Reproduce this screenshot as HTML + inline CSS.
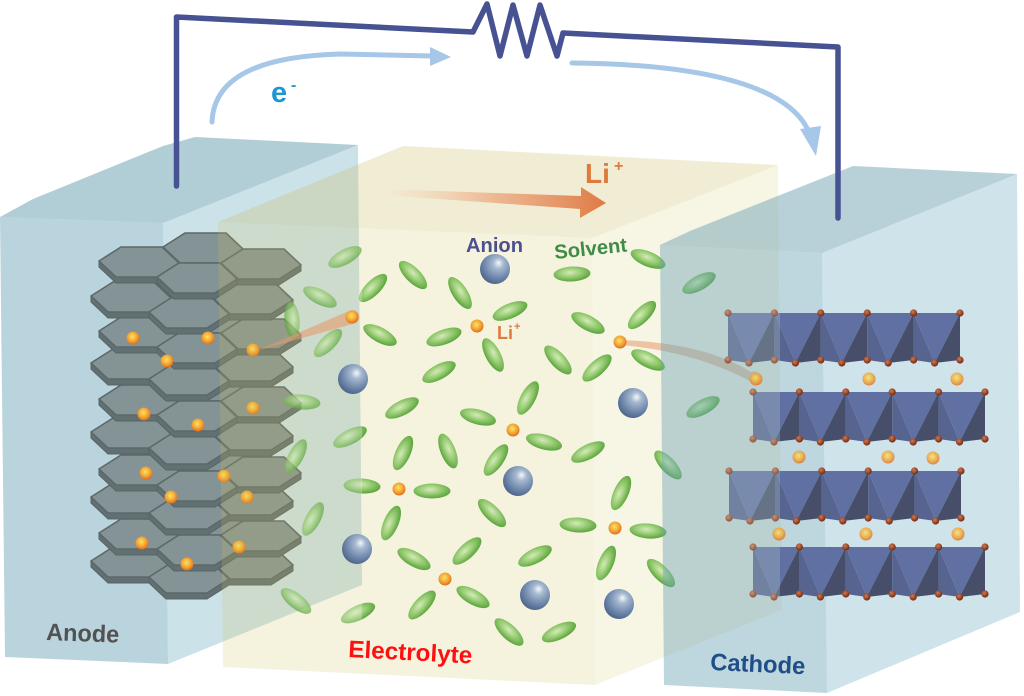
<!DOCTYPE html>
<html><head><meta charset="utf-8"><style>
html,body{margin:0;padding:0;background:#fff;}
svg{display:block;}
text{font-family:"Liberation Sans",Arial,sans-serif;font-weight:bold;}
</style></head><body>
<svg width="1024" height="696" viewBox="0 0 1024 696" xmlns="http://www.w3.org/2000/svg">
<defs>
<radialGradient id="gE" cx="0.45" cy="0.4" r="0.6"><stop offset="0" stop-color="#d4ebb8"/><stop offset="0.5" stop-color="#98cc74"/><stop offset="1" stop-color="#5aa43c"/></radialGradient>
<radialGradient id="gA" cx="0.6" cy="0.35" r="0.7" fx="0.62" fy="0.3"><stop offset="0" stop-color="#f4f7fb"/><stop offset="0.25" stop-color="#a6b9d0"/><stop offset="0.7" stop-color="#6a83a8"/><stop offset="1" stop-color="#4b6186"/></radialGradient>
<radialGradient id="gL" cx="0.45" cy="0.4" r="0.62"><stop offset="0" stop-color="#fbe466"/><stop offset="0.6" stop-color="#f2a232"/><stop offset="1" stop-color="#de681c"/></radialGradient>
<radialGradient id="gB" cx="0.4" cy="0.35" r="0.65"><stop offset="0" stop-color="#cf7a52"/><stop offset="1" stop-color="#74280f"/></radialGradient>
<linearGradient id="gLi" x1="382" y1="0" x2="607" y2="0" gradientUnits="userSpaceOnUse"><stop offset="0" stop-color="#f3c9a6" stop-opacity="0"/><stop offset="0.5" stop-color="#ecae86" stop-opacity="0.85"/><stop offset="1" stop-color="#df7a44"/></linearGradient>
<clipPath id="cA"><rect x="0" y="0" width="362" height="696"/></clipPath>
<clipPath id="cNA"><rect x="362" y="0" width="700" height="696"/></clipPath>
<clipPath id="cE"><rect x="0" y="0" width="780" height="696"/></clipPath>
<clipPath id="cNE"><rect x="780" y="0" width="300" height="696"/></clipPath>
<ellipse id="e" cx="0" cy="0" rx="18.5" ry="7.5" fill="url(#gE)"/>
<circle id="li" cx="0" cy="0" r="6.5" fill="url(#gL)"/>
<circle id="an" cx="0" cy="0" r="15" fill="url(#gA)"/>
<circle id="bd" cx="0" cy="0" r="3.6" fill="url(#gB)"/>
<g id="hx">
<polygon points="-18,-15 23,-15 40,1 40,7 18,21 -23,21 -40,5 -40,-1" fill="#617072" stroke="#586466" stroke-width="1"/>
<polygon points="40,1 18,15 -23,15 -40,-1 -18,-15 23,-15" fill="#849395" stroke="#5c686a" stroke-width="1.6" stroke-linejoin="round"/>
</g>
<g id="hl">
<use href="#hx" transform="translate(0,0)"/>
<use href="#hx" transform="translate(-64,14)"/>
<use href="#hx" transform="translate(58,16)"/>
<use href="#hx" transform="translate(-6,30)"/>
</g>
<g id="cl">
<polygon points="0,0 0,47 21,50" fill="#56648f"/><polygon points="0,0 46.4,0 21,50" fill="#6070a2"/><polygon points="46.4,0 21,50 46.4,47" fill="#464e6a"/>
<polygon points="46.4,0 46.4,47 67.4,50" fill="#56648f"/><polygon points="46.4,0 92.8,0 67.4,50" fill="#6070a2"/><polygon points="92.8,0 67.4,50 92.8,47" fill="#464e6a"/>
<polygon points="92.8,0 92.8,47 113.8,50" fill="#56648f"/><polygon points="92.8,0 139.2,0 113.8,50" fill="#6070a2"/><polygon points="139.2,0 113.8,50 139.2,47" fill="#464e6a"/>
<polygon points="139.2,0 139.2,47 160.2,50" fill="#56648f"/><polygon points="139.2,0 185.6,0 160.2,50" fill="#6070a2"/><polygon points="185.6,0 160.2,50 185.6,47" fill="#464e6a"/>
<polygon points="185.6,0 185.6,47 206.6,50" fill="#56648f"/><polygon points="185.6,0 232,0 206.6,50" fill="#6070a2"/><polygon points="232,0 206.6,50 232,47" fill="#464e6a"/>
<use href="#bd" x="0" y="0"/><use href="#bd" x="46.4" y="0"/><use href="#bd" x="92.8" y="0"/><use href="#bd" x="139.2" y="0"/><use href="#bd" x="185.6" y="0"/><use href="#bd" x="232" y="0"/>
<use href="#bd" x="0" y="47"/><use href="#bd" x="46.4" y="47"/><use href="#bd" x="92.8" y="47"/><use href="#bd" x="139.2" y="47"/><use href="#bd" x="185.6" y="47"/><use href="#bd" x="232" y="47"/>
<use href="#bd" x="21" y="50"/><use href="#bd" x="67.4" y="50"/><use href="#bd" x="113.8" y="50"/><use href="#bd" x="160.2" y="50"/><use href="#bd" x="206.6" y="50"/>
</g>
<g id="cry">
<use href="#cl" transform="translate(728,313)"/>
<use href="#cl" transform="translate(753,392)"/>
<use href="#cl" transform="translate(729,471)"/>
<use href="#cl" transform="translate(753,547)"/>
</g>
<g id="mol">
<use href="#e" transform="translate(345,257) rotate(-28)"/>
<use href="#e" transform="translate(413,275) rotate(45)"/>
<use href="#e" transform="translate(460,293) rotate(57)"/>
<use href="#e" transform="translate(572,274) rotate(-3)"/>
<use href="#e" transform="translate(648,259) rotate(22)"/>
<use href="#e" transform="translate(373,288) rotate(-45)"/>
<use href="#e" transform="translate(320,297) rotate(27)"/>
<use href="#e" transform="translate(292,320) rotate(85)"/>
<use href="#e" transform="translate(510,311) rotate(-22)"/>
<use href="#e" transform="translate(380,335) rotate(28)"/>
<use href="#e" transform="translate(444,337) rotate(-20)"/>
<use href="#e" transform="translate(493,355) rotate(62)"/>
<use href="#e" transform="translate(328,343) rotate(-45)"/>
<use href="#e" transform="translate(588,323) rotate(28)"/>
<use href="#e" transform="translate(642,315) rotate(-45)"/>
<use href="#e" transform="translate(558,360) rotate(47)"/>
<use href="#e" transform="translate(597,368) rotate(-42)"/>
<use href="#e" transform="translate(648,360) rotate(27)"/>
<use href="#e" transform="translate(439,372) rotate(-28)"/>
<use href="#e" transform="translate(699,283) rotate(-28)"/>
<use href="#e" transform="translate(302,402) rotate(5)"/>
<use href="#e" transform="translate(402,408) rotate(-27)"/>
<use href="#e" transform="translate(528,398) rotate(-62)"/>
<use href="#e" transform="translate(478,417) rotate(15)"/>
<use href="#e" transform="translate(703,407) rotate(-28)"/>
<use href="#e" transform="translate(350,437) rotate(-27)"/>
<use href="#e" transform="translate(296,456) rotate(-62)"/>
<use href="#e" transform="translate(403,453) rotate(-66)"/>
<use href="#e" transform="translate(448,451) rotate(68)"/>
<use href="#e" transform="translate(496,460) rotate(-55)"/>
<use href="#e" transform="translate(544,442) rotate(15)"/>
<use href="#e" transform="translate(588,452) rotate(-27)"/>
<use href="#e" transform="translate(668,465) rotate(47)"/>
<use href="#e" transform="translate(362,486) rotate(3)"/>
<use href="#e" transform="translate(432,491) rotate(0)"/>
<use href="#e" transform="translate(621,493) rotate(-66)"/>
<use href="#e" transform="translate(313,519) rotate(-62)"/>
<use href="#e" transform="translate(391,523) rotate(-67)"/>
<use href="#e" transform="translate(492,513) rotate(45)"/>
<use href="#e" transform="translate(578,525) rotate(3)"/>
<use href="#e" transform="translate(648,531) rotate(5)"/>
<use href="#e" transform="translate(414,559) rotate(29)"/>
<use href="#e" transform="translate(467,551) rotate(-43)"/>
<use href="#e" transform="translate(535,556) rotate(-27)"/>
<use href="#e" transform="translate(606,563) rotate(-67)"/>
<use href="#e" transform="translate(661,573) rotate(45)"/>
<use href="#e" transform="translate(296,601) rotate(38)"/>
<use href="#e" transform="translate(358,613) rotate(-25)"/>
<use href="#e" transform="translate(422,605) rotate(-47)"/>
<use href="#e" transform="translate(473,597) rotate(29)"/>
<use href="#e" transform="translate(509,632) rotate(43)"/>
<use href="#e" transform="translate(559,632) rotate(-25)"/>
</g>
</defs>

<!-- Anode box -->
<polygon points="0,217 163,223 168,664 5,657" fill="#6fa6b8" fill-opacity="0.48"/>
<polygon points="163,223 358,145 362,585 168,664" fill="#86b9ca" fill-opacity="0.42"/>
<polygon points="0,217 33,199 163,146 195,137 358,145 163,223" fill="#6a9fb0" fill-opacity="0.52"/>

<!-- graphite layers -->
<use href="#hl" transform="translate(195,548)"/>
<use href="#hl" transform="translate(203,520)"/>
<use href="#hl" transform="translate(195,484)"/>
<use href="#hl" transform="translate(203,456)"/>
<use href="#hl" transform="translate(195,419)"/>
<use href="#hl" transform="translate(203,386)"/>
<use href="#hl" transform="translate(195,350)"/>
<use href="#hl" transform="translate(203,318)"/>
<use href="#hl" transform="translate(195,283)"/>
<use href="#hl" transform="translate(203,248)"/>

<!-- Li in anode -->
<use href="#li" x="133" y="338"/><use href="#li" x="208" y="338"/><use href="#li" x="253" y="350"/><use href="#li" x="167" y="361"/>
<use href="#li" x="144" y="414"/><use href="#li" x="198" y="425"/><use href="#li" x="253" y="408"/>
<use href="#li" x="146" y="473"/><use href="#li" x="224" y="476"/><use href="#li" x="171" y="497"/><use href="#li" x="247" y="497"/>
<use href="#li" x="142" y="543"/><use href="#li" x="239" y="547"/><use href="#li" x="187" y="564"/>

<!-- Electrolyte box -->
<polygon points="218,222 592,238 595,685 223,667" fill="#cdc35a" fill-opacity="0.2"/>
<polygon points="592,238 778,165 782,610 595,685" fill="#cdc35a" fill-opacity="0.16"/>
<polygon points="218,222 403,146 778,165 592,238" fill="#c8b85a" fill-opacity="0.26"/>

<!-- Li+ arrow -->
<polygon points="382,189 581,196 581,187 606,203 580,218 580,209 382,195" fill="url(#gLi)"/>

<!-- molecules -->
<use href="#mol" clip-path="url(#cNA)"/>
<use href="#mol" clip-path="url(#cA)" opacity="0.7"/>

<!-- transfer cones -->
<path d="M256,351 L349,311 A6.5,6.5 0 0 1 356,323 Z" fill="#e39a6c" fill-opacity="0.6"/>
<path d="M621,340 Q705,343 751,372 A6.5,6.5 0 0 1 757,385 Q700,352 621,345 Z" fill="#e39a6c" fill-opacity="0.55"/>

<!-- anions -->
<use href="#an" x="495" y="269"/><use href="#an" x="353" y="379"/><use href="#an" x="633" y="403"/>
<use href="#an" x="518" y="481"/><use href="#an" x="357" y="549"/><use href="#an" x="535" y="595"/><use href="#an" x="619" y="604"/>

<!-- Li+ electrolyte -->
<use href="#li" x="352" y="317"/><use href="#li" x="477" y="326"/><use href="#li" x="620" y="342"/><use href="#li" x="513" y="430"/>
<use href="#li" x="399" y="489"/><use href="#li" x="615" y="528"/><use href="#li" x="445" y="579"/>

<!-- Cathode box -->
<polygon points="660,245 822,253 827,693 664,685" fill="#6fa6b8" fill-opacity="0.45"/>
<polygon points="822,253 1017,174 1020,612 827,693" fill="#86b9ca" fill-opacity="0.4"/>
<polygon points="660,245 690,231 853,166 1017,174 822,253" fill="#6a9fb0" fill-opacity="0.48"/>

<!-- cathode crystal -->
<use href="#cry" clip-path="url(#cNE)"/>
<use href="#cry" clip-path="url(#cE)" opacity="0.72"/>

<g opacity="0.8">
<use href="#li" x="756" y="379"/><use href="#li" x="869" y="379"/><use href="#li" x="957" y="379"/>
<use href="#li" x="799" y="457"/><use href="#li" x="888" y="457"/><use href="#li" x="933" y="458"/>
<use href="#li" x="779" y="534"/><use href="#li" x="866" y="534"/><use href="#li" x="958" y="534"/>
</g>

<!-- wire -->
<polyline points="176.5,186 176.5,17 473,32 487,4 500,56 513,5 527,56 540,5 557,56 563,33 838,47 838,218" fill="none" stroke="#475293" stroke-width="5.5" stroke-linejoin="round" stroke-linecap="round"/>

<!-- electron arrows -->
<path d="M212,122 C214,72 270,56 340,54 L432,56" fill="none" stroke="#a6c7e7" stroke-width="5" stroke-linecap="round"/>
<polygon points="430,47 451,57 430,66" fill="#a6c7e7"/>
<path d="M572,63 C690,64 785,82 808,130" fill="none" stroke="#a6c7e7" stroke-width="5" stroke-linecap="round"/>
<polygon points="800,129 821,126 816,156" fill="#a6c7e7"/>

<!-- labels -->
<text x="271" y="102" font-size="29" fill="#1e96d2">e</text>
<text x="291" y="90" font-size="16" fill="#1e96d2">-</text>
<text x="585" y="183" font-size="28" fill="#df7a3c">Li</text>
<text x="614" y="171" font-size="16" fill="#df7a3c">+</text>
<text x="466" y="252" font-size="20" fill="#4c4f8e" textLength="57" lengthAdjust="spacingAndGlyphs">Anion</text>
<text x="555" y="259" font-size="20" fill="#3f8c46" transform="rotate(-6 555 259)" textLength="73" lengthAdjust="spacingAndGlyphs">Solvent</text>
<text x="497" y="339" font-size="18" fill="#df7a3c">Li</text>
<text x="514" y="330" font-size="11" fill="#df7a3c">+</text>
<text x="46" y="640" font-size="24" fill="#525252" transform="rotate(2 46 640)" textLength="73" lengthAdjust="spacingAndGlyphs">Anode</text>
<text x="348" y="657" font-size="24" fill="#ff1010" transform="rotate(3 348 657)" textLength="124" lengthAdjust="spacingAndGlyphs">Electrolyte</text>
<text x="710" y="670" font-size="24" fill="#1f4e88" transform="rotate(2.5 710 670)" textLength="95" lengthAdjust="spacingAndGlyphs">Cathode</text>
</svg>
</body></html>
